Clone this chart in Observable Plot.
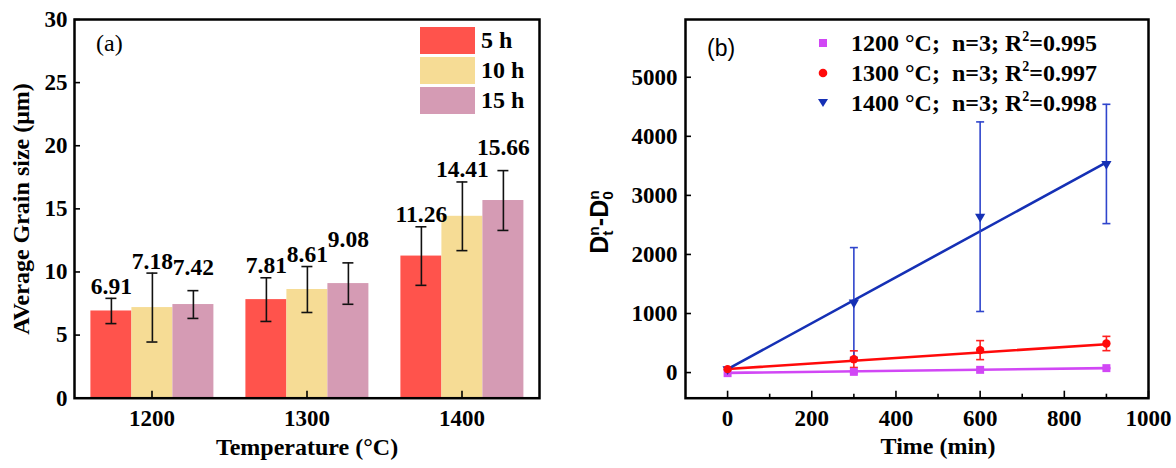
<!DOCTYPE html>
<html>
<head>
<meta charset="utf-8">
<script src="https://cdn.jsdelivr.net/npm/d3@7"></script>
<script src="https://cdn.jsdelivr.net/npm/@observablehq/plot@0.6"></script>
<style>
  html, body { margin: 0; padding: 0; background: #fff; }
  #wrap { position: relative; width: 1176px; height: 468px; overflow: hidden; background: #fff; }
  #pa, #pb { position: absolute; top: 0; }
  #pa { left: 0; }
  #pb { left: 580px; }
  .ov { position: absolute; color: #000; white-space: nowrap; }
  .serif { font-family: "Liberation Serif", "Times New Roman", serif; }
  .sans { font-family: "Liberation Sans", Arial, sans-serif; }
  .rot { transform: translate(-50%, -50%) rotate(-90deg); font-weight: bold; }
  .ss { display: inline-flex; flex-direction: column; font-size: 0.62em; line-height: 0.95; vertical-align: middle; text-align: left; }
</style>
</head>
<body>
<div id="wrap">
  <div id="pa"></div>
  <div id="pb"></div>
</div>
<script>
// ---------- Panel (a) data ----------
const temps = ["1200", "1300", "1400"];
const durations = ["5 h", "10 h", "15 h"];
const barColors = ["#ff534c", "#f6dc95", "#d59bb4"];
const grain5h = [6.91, 7.81, 11.26];
const grain10h = [7.18, 8.61, 14.41];
const grain15h = [7.42, 9.08, 15.66];
const err5h = [1.0, 1.73, 2.32];
const err10h = [2.73, 1.82, 2.72];
const err15h = [1.1, 1.64, 2.37];
const yTicksA = [0, 5, 10, 15, 20, 25, 30];

// ---------- Panel (b) data ----------
const times = [0, 300, 600, 900];
const seriesB = ["1200", "1300", "1400"];
const seriesColors = ["#d147f5", "#ff0a0a", "#1530b5"];
const errColors = ["#d147f5", "#ff2020", "#2f45cc"];
const val1200 = [-10, 12, 46, 75];
const val1300 = [58, 227, 380, 492];
const val1400 = [58, 1186, 2639, 3532];
const err1200 = [0, 15, 8, 8];
const err1300 = [0, 141, 161, 121];
const err1400 = [0, 930, 1605, 1010];
const fitTimes = [0, 900];
const fit1200 = [-5, 75];
const fit1300 = [60, 480];
const fit1400 = [58, 3559];
const legendTemps = ["1200 °C", "1300 °C", "1400 °C"];
const legendN = ["3", "3", "3"];
const legendR2 = ["0.995", "0.997", "0.998"];
const xTicksB = [0, 200, 400, 600, 800, 1000];
const xMinorB = [100, 300, 500, 700, 900];
const yTicksB = [0, 1000, 2000, 3000, 4000, 5000];

// ---------- Build tables ----------
const grains = [grain5h, grain10h, grain15h];
const errs = [err5h, err10h, err15h];
const barData = [];
temps.forEach((t, i) => durations.forEach((d, j) => {
  barData.push({temp: t, dur: d, mean: grains[j][i], lo: grains[j][i] - errs[j][i], hi: grains[j][i] + errs[j][i]});
}));

const vals = [val1200, val1300, val1400];
const errB = [err1200, err1300, err1400];
const fits = [fit1200, fit1300, fit1400];
const ptData = [];
seriesB.forEach((s, i) => times.forEach((t, k) => {
  ptData.push({s, t, v: vals[i][k], lo: vals[i][k] - errB[i][k], hi: vals[i][k] + errB[i][k], e: errB[i][k]});
}));
const fitData = [];
seriesB.forEach((s, i) => fitTimes.forEach((t, k) => fitData.push({s, t, v: fits[i][k]})));
const colorOf = s => seriesColors[seriesB.indexOf(s)];
const errColorOf = s => errColors[seriesB.indexOf(s)];

const serif = '"Liberation Serif", "Times New Roman", serif';
const sans = '"Liberation Sans", Arial, sans-serif';
const fmt = d => String(d);

// ---------- Panel (a) ----------
const plotA = Plot.plot({
  width: 580, height: 468,
  marginLeft: 73.6, marginRight: 40.5, marginTop: 19, marginBottom: 70.3,
  style: {fontFamily: serif, fontWeight: "bold", fontSize: "23px", color: "#000", background: "transparent", overflow: "visible"},
  fx: {domain: temps, padding: 0, axis: null, label: null},
  x: {domain: durations, paddingInner: 0, paddingOuter: 0.375, axis: null},
  y: {domain: [0, 30], axis: null},
  color: {domain: durations, range: barColors},
  marks: [
    Plot.barY(barData, {fx: "temp", x: "dur", y: "mean", fill: "dur"}),
    Plot.ruleX(barData, {fx: "temp", x: "dur", y1: "lo", y2: "hi", stroke: "#111", strokeWidth: 1.6}),
    Plot.tickY(barData, {fx: "temp", x: "dur", y: "lo", insetLeft: 15, insetRight: 15, stroke: "#111", strokeWidth: 1.6}),
    Plot.tickY(barData, {fx: "temp", x: "dur", y: "hi", insetLeft: 15, insetRight: 15, stroke: "#111", strokeWidth: 1.6}),
    Plot.text(barData.filter(d => d.dur !== "15 h"), {fx: "temp", x: "dur", y: "hi", dy: -12, text: d => d.mean.toFixed(2), fontSize: 23.5, fontWeight: "bold", fill: "#000"}),
    Plot.text(barData.filter(d => d.dur === "15 h"), {fx: "temp", x: "dur", y: "hi", dy: -23, text: d => d.mean.toFixed(2), fontSize: 23.5, fontWeight: "bold", fill: "#000"}),
    Plot.axisY({ticks: yTicksA, tickSize: 6, dx: 6, text: null, label: null, strokeWidth: 1.6}),
    Plot.axisY({ticks: yTicksA, tickSize: 0, tickPadding: 7, label: null, tickFormat: fmt, fontSize: 23, fontWeight: "bold"}),
    Plot.axisFx({anchor: "bottom", tickSize: 7, dy: -7, text: null, label: null, strokeWidth: 1.6}),
    Plot.axisFx({anchor: "bottom", tickSize: 0, tickPadding: 11, label: null, fontSize: 23, fontWeight: "bold"}),
    Plot.frame({facet: "super", stroke: "#000", strokeWidth: 2.5}),
    Plot.text(["Temperature (°C)"], {facet: "super", frameAnchor: "bottom", dy: 57, fontSize: 24, fontWeight: "bold", fill: "#000"})
  ]
});
document.getElementById("pa").appendChild(plotA);

// ---------- Panel (b) ----------
const capSymbol = {draw(ctx, size) { const r = Math.sqrt(size / Math.PI); ctx.moveTo(-r, 0); ctx.lineTo(r, 0); }};
const plotB = Plot.plot({
  width: 596, height: 468,
  marginLeft: 105, marginRight: 28, marginTop: 19, marginBottom: 70.3,
  style: {fontFamily: serif, fontWeight: "bold", fontSize: "23px", color: "#000", background: "transparent", overflow: "visible"},
  x: {domain: [-100, 1000], axis: null},
  y: {domain: [-434, 5978], axis: null},
  marks: [
    Plot.line(fitData, {x: "t", y: "v", z: "s", stroke: d => colorOf(d.s), strokeWidth: 2.6}),
    Plot.ruleX(ptData.filter(d => d.e > 0), {x: "t", y1: "lo", y2: "hi", stroke: d => errColorOf(d.s), strokeWidth: 1.6}),
    Plot.dot(ptData.filter(d => d.e > 0), {x: "t", y: "lo", symbol: capSymbol, r: 4, stroke: d => errColorOf(d.s), strokeWidth: 1.6}),
    Plot.dot(ptData.filter(d => d.e > 0), {x: "t", y: "hi", symbol: capSymbol, r: 4, stroke: d => errColorOf(d.s), strokeWidth: 1.6}),
    Plot.dot(ptData.filter(d => d.s === "1200"), {x: "t", y: "v", symbol: "square", r: 4.5, fill: d => colorOf(d.s)}),
    Plot.dot(ptData.filter(d => d.s === "1400"), {x: "t", y: "v", symbol: "triangle", rotate: 180, r: 3.8, fill: d => colorOf(d.s)}),
    Plot.dot(ptData.filter(d => d.s === "1300"), {x: "t", y: "v", symbol: "circle", r: 4.2, fill: d => colorOf(d.s)}),
    Plot.axisX({ticks: xTicksB, tickSize: 7, dy: -7, text: null, label: null, strokeWidth: 1.6}),
    Plot.axisX({ticks: xMinorB, tickSize: 4, dy: -4, text: null, label: null, strokeWidth: 1.6}),
    Plot.axisX({ticks: xTicksB, tickSize: 0, tickPadding: 11, label: null, tickFormat: fmt, fontSize: 23, fontWeight: "bold"}),
    Plot.axisY({ticks: yTicksB, tickSize: 6, dx: 6, text: null, label: null, strokeWidth: 1.6}),
    Plot.axisY({ticks: yTicksB, tickSize: 0, tickPadding: 8, label: null, tickFormat: fmt, fontSize: 23, fontWeight: "bold"}),
    Plot.frame({stroke: "#000", strokeWidth: 2.5}),
    Plot.text(["Time (min)"], {frameAnchor: "bottom", dy: 56, dx: 21, fontSize: 24, fontWeight: "bold", fill: "#000"})
  ]
});
document.getElementById("pb").appendChild(plotB);

// ---------- Overlays: axis titles, panel tags and legends ----------
const wrap = document.getElementById("wrap");
function addDiv(html, css, cls) {
  const d = document.createElement("div");
  d.className = "ov " + (cls || "");
  d.innerHTML = html;
  Object.assign(d.style, css);
  wrap.appendChild(d);
  return d;
}
addDiv("AVerage Grain size (μm)", {left: "21px", top: "208.5px", fontSize: "24px", lineHeight: "28px"}, "serif rot");
addDiv('D<span class="ss"><span>n</span><span>t</span></span>-D<span class="ss"><span>n</span><span>0</span></span>',
  {left: "600px", top: "222px", fontSize: "25px", lineHeight: "30px"}, "sans rot");

addDiv("(a)", {left: "96px", top: "29px", fontSize: "24px", lineHeight: "28px"}, "serif");
addDiv("(b)", {left: "707px", top: "34px", fontSize: "23px", lineHeight: "28px"}, "sans");

// Legend (a)
durations.forEach((d, i) => {
  addDiv("", {left: "420px", top: (27.3 + i * 30) + "px", width: "55px", height: "26.7px", background: barColors[i]});
  addDiv(d, {left: "481px", top: (27.3 + i * 30) + "px", height: "26.7px", lineHeight: "26.7px", fontSize: "24px", fontWeight: "bold"}, "serif");
});

// Legend (b)
const legY = [43.3, 73.2, 103];
const shapes = [
  c => `<rect x="5" y="5" width="8" height="8" fill="${c}"/>`,
  c => `<circle cx="9" cy="9" r="4.3" fill="${c}"/>`,
  c => `<path d="M4,5 L14,5 L9,13 Z" fill="${c}"/>`
];
seriesB.forEach((s, i) => {
  addDiv(`<svg width="18" height="18">${shapes[i](seriesColors[i])}</svg>`, {left: (823 - 9) + "px", top: (legY[i] - 9) + "px", width: "18px", height: "18px", lineHeight: "0"});
  addDiv(`${legendTemps[i]};&nbsp; n=${legendN[i]}; R<sup style="font-size:14px;vertical-align:10px;line-height:0">2</sup>=${legendR2[i]}`,
    {left: "851px", top: (legY[i] - 15) + "px", height: "30px", lineHeight: "30px", fontSize: "24px", fontWeight: "bold"}, "serif");
});
</script>
</body>
</html>
